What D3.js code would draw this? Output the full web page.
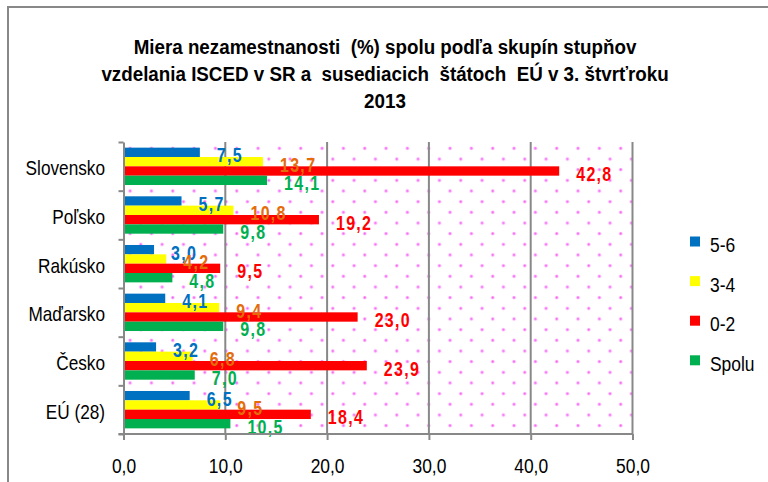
<!DOCTYPE html>
<html><head><meta charset="utf-8">
<script src="https://cdn.jsdelivr.net/npm/d3@7"></script>
<style>body{margin:0;background:#fff} svg{display:block}</style>
</head><body>
<svg id="c" width="768" height="482"></svg>
<script>
const categories = ["Slovensko","Poľsko","Rakúsko","Maďarsko","Česko","EÚ (28)"];
const seriesNames = ["5-6","3-4","0-2","Spolu"];
const values56 = [7.5,5.7,3.0,4.1,3.2,6.5];
const values34 = [13.7,10.8,4.2,9.4,6.8,9.5];
const values02 = [42.8,19.2,9.5,23.0,23.9,18.4];
const valuesSpolu = [14.1,9.8,4.8,9.8,7.0,10.5];
const xTicks = [0,10,20,30,40,50];
const titleLines = ["Miera nezamestnanosti  (%) spolu podľa skupín stupňov",
  "vzdelania ISCED v SR a  susediacich  štátoch  EÚ v 3. štvrťroku","2013"];

const barColors = {"5-6":"#0070C0","3-4":"#FFFF00","0-2":"#FF0000","Spolu":"#00B050"};
const labelColors = {"5-6":"#0070C0","3-4":"#E46C0A","0-2":"#FF0000","Spolu":"#00B050"};
const seriesValues = {"5-6":values56,"3-4":values34,"0-2":values02,"Spolu":valuesSpolu};
const FONT = "'Liberation Sans',Arial,sans-serif";
const fmt = v => d3.format(".1f")(v).replace(".", ",");

// condense a text element horizontally around its anchor point
function condense(sel, f) {
  sel.each(function() {
    const t = d3.select(this);
    const tx = +t.attr("x") || 0, ty = +t.attr("y") || 0;
    t.attr("x", 0).attr("y", 0)
     .attr("transform", `translate(${tx},${ty}) scale(${f},1)`);
  });
}

const svg = d3.select("#c");
const L = 123.5, R = 632.5, T = 142, B = 434;
const x = d3.scaleLinear().domain([0,50]).range([L,R]);
const y = d3.scaleBand().domain(categories).range([T,B]).paddingInner(0.232).paddingOuter(0.116);
const yi = d3.scaleBand().domain(seriesNames).range([0,y.bandwidth()]);

// outer frame
svg.append("rect").attr("x",8).attr("y",7).attr("width",800).attr("height",520)
  .attr("fill","#fff").attr("stroke","#888").attr("stroke-width",2);

// title
svg.append("g").selectAll("text").data(titleLines).join("text")
  .attr("x",385).attr("y",(d,i)=>54+i*27)
  .attr("text-anchor","middle").attr("font-family",FONT).attr("font-weight","bold")
  .attr("font-size",21).style("white-space","pre").attr("fill","#000").text(d=>d)
  .call(condense, 0.895);

// dotted background
const defs = svg.append("defs");
const pat = defs.append("pattern").attr("id","dots").attr("patternUnits","userSpaceOnUse")
  .attr("x",L).attr("y",T).attr("width",21.33).attr("height",21.33);
pat.append("rect").attr("width",21.33).attr("height",21.33).attr("fill","#fff");
[[6.6,6.3],[17.3,17.0]].forEach(([cx,cy])=>{
  pat.append("circle").attr("cx",cx).attr("cy",cy).attr("r",1.8).attr("fill","#FFB8FF");
  pat.append("circle").attr("cx",cx).attr("cy",cy).attr("r",1.1).attr("fill","#F468F4");
});
svg.append("rect").attr("x",L).attr("y",T).attr("width",R-L).attr("height",B-T).attr("fill","url(#dots)");

// gridlines
svg.append("g").selectAll("line").data(xTicks.filter(d=>d>0)).join("line")
  .attr("x1",d=>x(d)).attr("x2",d=>x(d)).attr("y1",T).attr("y2",B)
  .attr("stroke","#888").attr("stroke-width",2);

// bars
const groups = svg.append("g").selectAll("g").data(categories).join("g")
  .attr("transform",d=>`translate(0,${y(d)})`);
groups.selectAll("rect").data((c,i)=>seriesNames.map(s=>({s,v:seriesValues[s][i]}))).join("rect")
  .attr("x",x(0)).attr("y",d=>yi(d.s)).attr("height",yi.bandwidth())
  .attr("width",d=>x(d.v)-x(0)).attr("fill",d=>barColors[d.s]);

// axes
const xAxis = svg.append("g").attr("transform",`translate(0,${B})`)
  .call(d3.axisBottom(x).tickValues(xTicks).tickSize(6).tickSizeOuter(0).tickFormat(fmt));
xAxis.select(".domain").attr("stroke","#888").attr("stroke-width",2).attr("d",`M${L-5},0H${R}`);
xAxis.selectAll(".tick line").attr("stroke","#888").attr("stroke-width",2);
xAxis.selectAll(".tick text").attr("y",39).attr("dy",null)
  .attr("font-family",FONT).attr("font-size",21).attr("fill","#000")
  .call(condense, 0.83);

const idx = d3.scaleLinear().domain([0,categories.length]).range([T,B]);
const yAxis = svg.append("g").attr("transform",`translate(${L},0)`)
  .call(d3.axisLeft(idx).tickValues(d3.range(categories.length+1)).tickSize(5).tickSizeOuter(0).tickFormat(""));
yAxis.select(".domain").attr("stroke","#888").attr("stroke-width",2);
yAxis.selectAll(".tick line").attr("stroke","#888").attr("stroke-width",2);

svg.append("g").selectAll("text").data(categories).join("text")
  .attr("x",105).attr("y",d=>y(d)+y.bandwidth()/2+2)
  .attr("text-anchor","end").attr("dominant-baseline","central")
  .attr("font-family",FONT).attr("font-size",21).attr("fill","#000").text(d=>d)
  .call(condense, 0.82);

// value labels
groups.selectAll("text").data((c,i)=>seriesNames.map(s=>({s,v:seriesValues[s][i]}))).join("text")
  .attr("x",d=>x(d.v)+17).attr("y",d=>yi(d.s)+yi.bandwidth()/2+3.5)
  .attr("dominant-baseline","central")
  .attr("font-family",FONT).attr("font-weight","bold").attr("font-size",19.5)
  .attr("letter-spacing",1.6)
  .attr("fill",d=>labelColors[d.s]).text(d=>fmt(d.v))
  .call(condense, 0.82);

// legend
const leg = svg.append("g").selectAll("g").data(seriesNames).join("g")
  .attr("transform",(d,i)=>`translate(690,${241.5+i*39.6})`);
leg.append("rect").attr("x",0).attr("y",-5).attr("width",10).attr("height",10).attr("fill",d=>barColors[d]);
leg.append("text").attr("x",20).attr("y",3.5).attr("dominant-baseline","central")
  .attr("font-family",FONT).attr("font-size",21).attr("fill","#000").text(d=>d)
  .call(condense, 0.83);
</script>
</body></html>
